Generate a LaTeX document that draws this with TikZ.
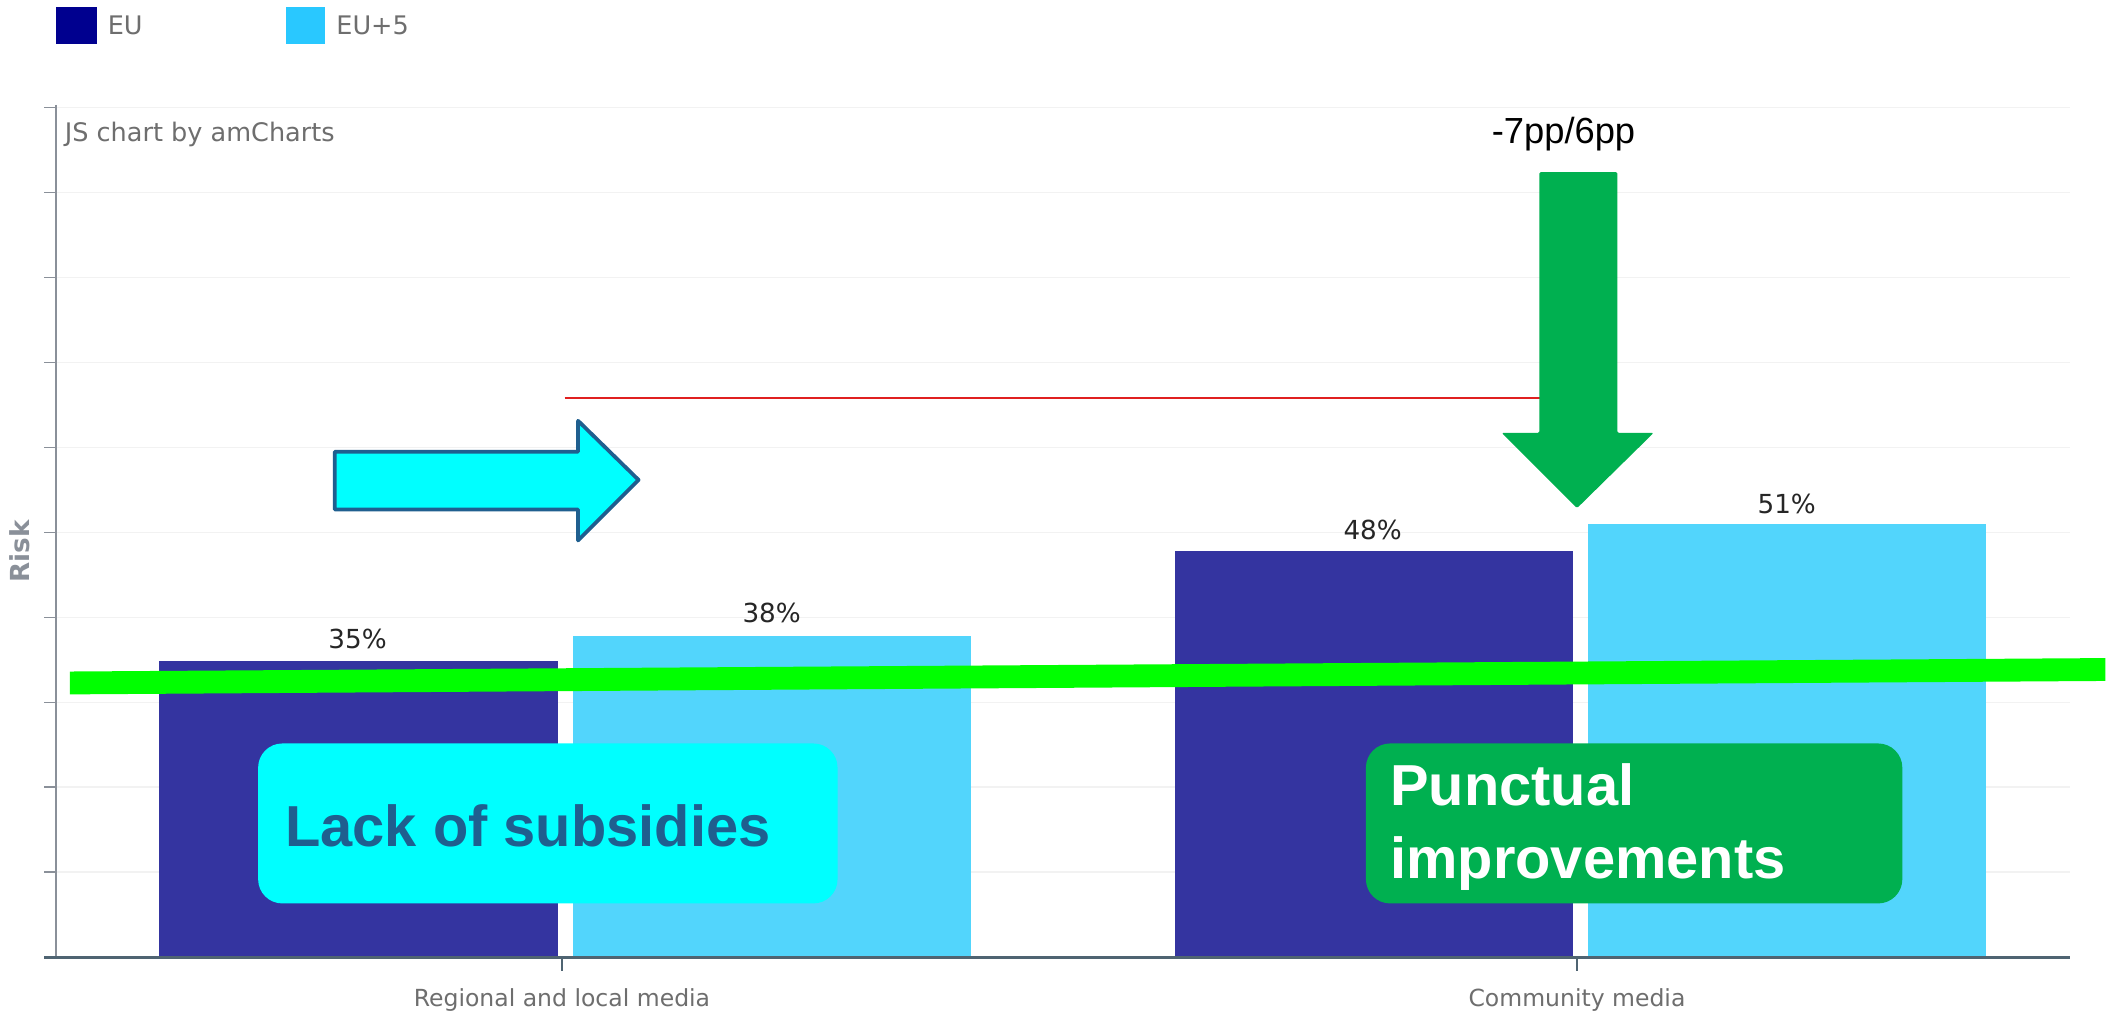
\documentclass[tikz,border=0pt]{standalone}
\usepackage{fontspec}
\setmainfont{DejaVu Sans}
\newfontfamily\arialf{Liberation Sans}
\definecolor{eudark}{HTML}{3434A0}
\definecolor{eulight}{HTML}{52D5FC}
\definecolor{legdark}{HTML}{00008F}
\definecolor{leglight}{HTML}{29C8FF}
\definecolor{axisgray}{HTML}{8A9099}
\definecolor{basecol}{HTML}{4F6472}
\definecolor{gridc}{HTML}{F2F2F2}
\definecolor{txtgray}{HTML}{6E6E6E}
\definecolor{boxblue}{HTML}{1F5F8F}
\definecolor{arrgreen}{HTML}{00B050}
\definecolor{limeg}{HTML}{00FF00}
\definecolor{aqua}{HTML}{00FFFF}
\definecolor{redl}{HTML}{E02020}
\begin{document}
\begin{tikzpicture}[x=1pt,y=-1pt,
  lbl/.style={inner sep=0pt,font=\fontsize{19.5}{22}\selectfont,text=black!85},
  cat/.style={inner sep=0pt,font=\fontsize{17.5}{20}\selectfont,text=txtgray},
  leg/.style={inner sep=0pt,font=\fontsize{19}{22}\selectfont,text=txtgray,anchor=west},
  bigtxt/.style={inner sep=0pt,font=\arialf\bfseries\fontsize{43}{54}\selectfont,anchor=north west,align=left}]
\useasboundingbox (0,0) rectangle (1568,754.2);
\fill[white] (0,0) rectangle (1568,754.2);
% legend
\fill[legdark] (42,5) rectangle (72,33);
\node[leg] (legeu) at (80,19) {EU};
\fill[leglight] (213,5) rectangle (242,33);
\node[leg] (legeu5) at (250,19) {EU+5};
% gridlines and ticks
\foreach \k in {0,...,9}{
  \draw[gridc,line width=1.2pt] (42,{80+63.2*\k}) -- (1540,{80+63.2*\k});
  \draw[axisgray,line width=1.2pt] (33,{80+63.2*\k}) -- (42,{80+63.2*\k});
}
\node[inner sep=0pt,anchor=west,font=\fontsize{19}{22}\selectfont,text=txtgray] (js) at (48,100) {JS chart by amCharts};
\node[inner sep=0pt,rotate=90,font=\bfseries\fontsize{19.5}{22}\selectfont,text=axisgray] (risk) at (15,410) {Risk};
% bars
\fill[eudark] (118,492) rectangle (415,712);
\fill[eulight] (426,473) rectangle (722,712);
\fill[eudark] (874,410) rectangle (1170,712);
\fill[eulight] (1181,390) rectangle (1477,712);
\node[lbl] (l35) at (266,475) {35\%};
\node[lbl] (l38) at (574,456) {38\%};
\node[lbl] (l48) at (1021,394) {48\%};
\node[lbl] (l51) at (1329,375) {51\%};
% axes
\draw[axisgray,line width=1.5pt] (42,78) -- (42,712);
\draw[basecol,line width=2pt] (33,712) -- (1540,712);
\draw[basecol,line width=1.2pt] (418,712) -- (418,722);
\draw[basecol,line width=1.2pt] (1173,712) -- (1173,722);
\node[cat] (c1) at (418,744) {Regional and local media};
\node[cat] (c2) at (1173,744) {Community media};
% red line
\coordinate (rs) at (420,296);
\coordinate (re) at (1146,296);
\draw[redl,line width=1.6pt] (rs) -- (re);
% cyan arrow
\draw[boxblue,fill=aqua,line width=2.8pt,line join=round]
  (249,336) -- (430,336) -- (430,313) -- (475,357) -- (430,402) -- (430,379) -- (249,379) -- cycle;
% green down arrow
\fill[arrgreen,rounded corners=1pt] (1145,128) -- (1203,128) -- (1203,322) -- (1230,322) -- (1173,378) -- (1117,322) -- (1145,322) -- cycle;
\node[inner sep=0pt,font=\arialf\fontsize{27}{30}\selectfont,text=black] (pp) at (1163,100) {-7pp/6pp};
% lime line
\draw[limeg,line width=17pt] (52,508) -- (1566,498);
% boxes
\fill[aqua,rounded corners=18pt] (192,553) rectangle (623,672);
\node[bigtxt,text=boxblue,anchor=west] (lack) at (212,614) {Lack of subsidies};
\fill[arrgreen,rounded corners=18pt] (1016,553) rectangle (1415,672);
\node[bigtxt,text=white] (punct) at (1034,568) {Punctual\\improvements};
\end{tikzpicture}
\end{document}
